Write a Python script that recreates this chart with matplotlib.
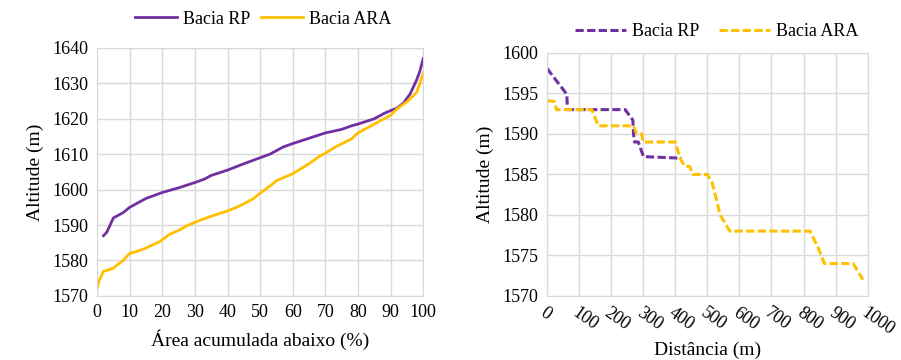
import matplotlib.pyplot as plt

plt.rcParams['font.family'] = ['Liberation Serif', 'DejaVu Serif']

PURPLE = '#7030A0'
YELLOW = '#FFC000'
GRID = '#D9D9D9'

# hypsometric curves (area below, %) -> altitude
rp_area = [2, 3, 4, 5, 7, 8, 10, 13, 15, 18, 20, 25, 30, 33, 35, 40, 45, 50, 53,
           57, 60, 65, 70, 75, 78, 80, 85, 88, 90, 92, 94, 96, 98, 99, 100]
rp_alt = [1587, 1588, 1590, 1592, 1593, 1593.5, 1595, 1596.5, 1597.5, 1598.5,
          1599.2, 1600.5, 1602, 1603, 1604, 1605.5, 1607.3, 1609, 1610, 1612,
          1613, 1614.5, 1616, 1617, 1618, 1618.5, 1620, 1621.5, 1622.3, 1623,
          1624.5, 1627, 1631, 1633.5, 1637]
ara_area = [0, 0.5, 1, 2, 3, 5, 6, 8, 10, 12, 15, 17, 19, 21, 22, 25, 28, 32, 35,
            40, 42, 45, 48, 50, 53, 55, 60, 65, 68, 70, 73, 78, 80, 85, 90, 92,
            95, 97, 98, 99, 100]
ara_alt = [1572, 1574, 1575, 1577, 1577.2, 1577.8, 1578.6, 1580, 1582, 1582.5,
           1583.5, 1584.4, 1585.2, 1586.5, 1587.3, 1588.5, 1590, 1591.5, 1592.5,
           1594, 1594.7, 1596, 1597.5, 1599, 1601, 1602.5, 1604.5, 1607.3,
           1609.3, 1610.3, 1612, 1614.3, 1616, 1618.5, 1621, 1622.8, 1624.8,
           1626.5, 1627.5, 1630, 1633]

# longitudinal profiles (distance m) -> altitude
rp_dist = [0, 62, 64, 244, 268, 270, 273, 285, 301, 420]
rp_prof = [1598.1, 1594.9, 1593, 1593, 1591.7, 1590, 1589, 1589, 1587.2, 1587]
ara_dist = [0, 23, 30, 140, 160, 270, 280, 296, 300, 400, 415, 430, 445, 455,
            500, 515, 528, 540, 570, 820, 845, 865, 955, 985]
ara_prof = [1594.1, 1594, 1593, 1593, 1591, 1591, 1590, 1590, 1589, 1589, 1587,
            1586, 1586, 1585, 1585, 1584, 1582, 1580, 1578, 1578, 1576, 1574,
            1574, 1572]


def style_axes(ax):
    ax.grid(True, color=GRID, linewidth=1)
    ax.set_axisbelow(True)
    for s in ax.spines.values():
        s.set_color(GRID)
    ax.tick_params(length=0, labelsize=13, pad=6)


fig = plt.figure(figsize=(9.01, 3.6), dpi=100)

ax1 = fig.add_axes([0.1077, 0.178, 0.362, 0.689])
ax1.plot(rp_area, rp_alt, color=PURPLE, lw=2, label='Bacia RP')
ax1.plot(ara_area, ara_alt, color=YELLOW, lw=2, label='Bacia ARA')
ax1.set_xlim(0, 100)
ax1.set_ylim(1570, 1640)
ax1.set_xticks(range(0, 101, 10))
ax1.set_yticks(range(1570, 1641, 10))
style_axes(ax1)
ax1.set_xlabel('Área acumulada abaixo (%)', fontsize=14, labelpad=6)
ax1.set_ylabel('Altitude (m)', fontsize=14, labelpad=6)
ax1.legend(loc='lower center', bbox_to_anchor=(0.51, 1.03), ncol=2, frameon=False,
           fontsize=13, handlelength=2.3, handletextpad=0.35, columnspacing=0.6,
           borderaxespad=0.3)

ax2 = fig.add_axes([0.607, 0.178, 0.356, 0.675])
dash = (0, (2.7, 1.1))
ax2.plot(rp_dist, rp_prof, color=PURPLE, lw=2.2, ls=dash, label='Bacia RP')
ax2.plot(ara_dist, ara_prof, color=YELLOW, lw=2.2, ls=dash, label='Bacia ARA')
ax2.set_xlim(0, 1000)
ax2.set_ylim(1570, 1600)
ax2.set_xticks(range(0, 1001, 100))
ax2.set_yticks(range(1570, 1601, 5))
style_axes(ax2)
for lbl in ax2.get_xticklabels():
    lbl.set_rotation(-35)
    lbl.set_ha('left')
    lbl.set_rotation_mode('anchor')
ax2.set_xlabel('Distância (m)', fontsize=14, labelpad=2)
ax2.set_ylabel('Altitude (m)', fontsize=14, labelpad=6)
ax2.legend(loc='lower center', bbox_to_anchor=(0.53, 1.0), ncol=2, frameon=False,
           fontsize=13, handlelength=2.8, handletextpad=0.35, columnspacing=1.1,
           borderaxespad=0.3)

fig.savefig('out.png', dpi=100)
